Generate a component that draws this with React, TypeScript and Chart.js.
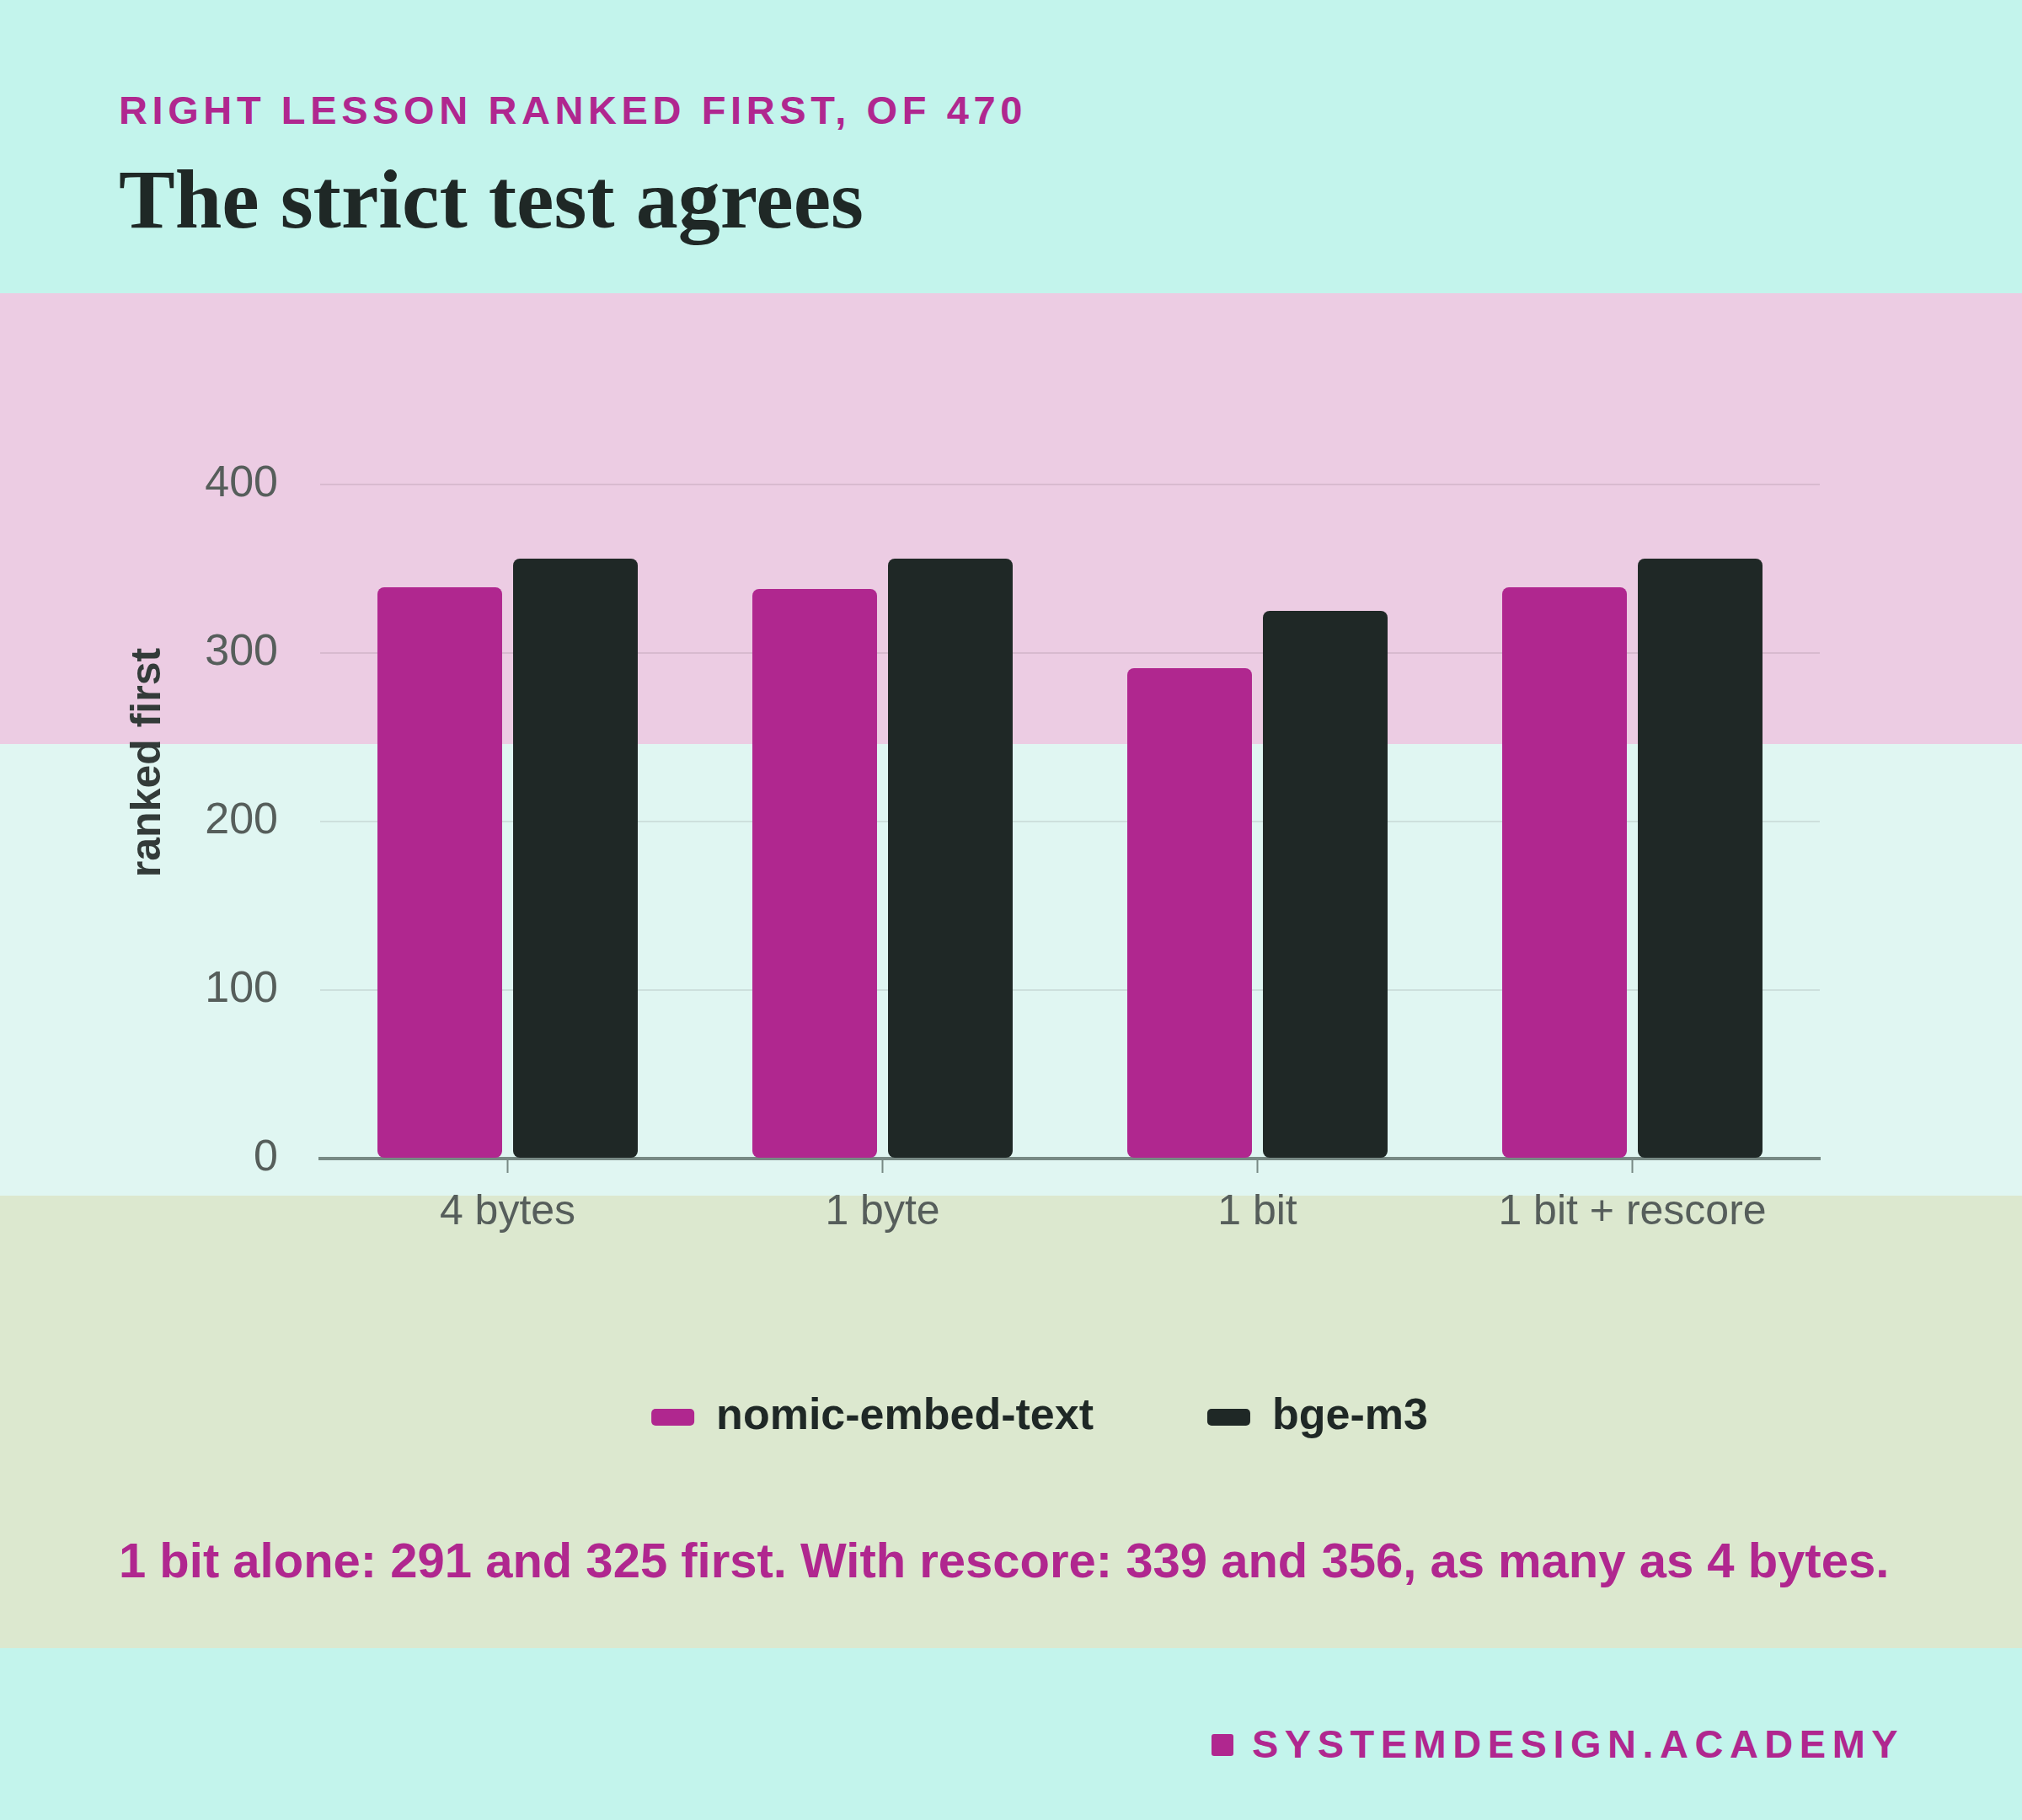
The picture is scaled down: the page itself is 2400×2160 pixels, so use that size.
import React, { useEffect, useRef } from 'react';
import { Chart, registerables } from 'chart.js';

Chart.register(...registerables);

const categories = ['4 bytes', '1 byte', '1 bit', '1 bit + rescore'];
const nomicValues = [339, 338, 291, 339];
const bgeValues = [356, 356, 325, 356];
const yTicks = [0, 100, 200, 300, 400];
const yMax = 470;

const MAGENTA = '#b0278f';
const INK = '#1f2826';
const AXIS = '#788a85';
const TICK = '#565e5b';
const GRID = 'rgba(40, 30, 40, 0.1)';
const SANS = "'Liberation Sans', Arial, sans-serif";

// the legend row sits a little right of the plot's centre in the design
const LEGEND_SHIFT = 167;

const legendShift = {
  id: 'legendShift',
  afterLayout(chart: any) {
    if (chart.legend) {
      chart.legend.left += LEGEND_SHIFT;
    }
  },
};

const App: React.FC = () => {
  const chartRef = useRef<HTMLCanvasElement | null>(null);
  const chartInstanceRef = useRef<Chart | null>(null);

  useEffect(() => {
    document.body.style.margin = '0';
    if (!chartRef.current) return;
    const ctx = chartRef.current.getContext('2d');
    if (!ctx) return;

    if (chartInstanceRef.current) {
      chartInstanceRef.current.destroy();
    }

    Chart.defaults.font.family = SANS;

    chartInstanceRef.current = new Chart(ctx, {
      type: 'bar',
      data: {
        labels: categories,
        datasets: [
          {
            label: 'nomic-embed-text',
            data: nomicValues,
            backgroundColor: MAGENTA,
            borderRadius: 8,
            borderSkipped: false,
            categoryPercentage: 0.7236,
            barPercentage: 0.919,
          },
          {
            label: 'bge-m3',
            data: bgeValues,
            backgroundColor: INK,
            borderRadius: 8,
            borderSkipped: false,
            categoryPercentage: 0.7236,
            barPercentage: 0.919,
          },
        ],
      },
      options: {
        animation: false,
        responsive: true,
        maintainAspectRatio: false,
        layout: {
          padding: { top: 87, left: 141, right: 240, bottom: 0 },
        },
        plugins: {
          legend: {
            position: 'bottom',
            labels: {
              boxWidth: 51,
              boxHeight: 20,
              padding: 135,
              useBorderRadius: true,
              borderRadius: 5,
              color: INK,
              font: { size: 52, weight: 'bold' },
            },
          },
          tooltip: { enabled: false },
        },
        scales: {
          x: {
            grid: {
              offset: false,
              drawOnChartArea: false,
              drawTicks: true,
              tickLength: 17,
              tickWidth: 2,
              tickColor: AXIS,
            },
            border: { color: AXIS, width: 4 },
            ticks: { color: TICK, padding: 17, font: { size: 50 } },
            afterFit: (scale: any) => {
              scale.height = 146;
            },
          },
          y: {
            min: 0,
            max: yMax,
            afterBuildTicks: (scale: any) => {
              scale.ticks = yTicks.map((value) => ({ value }));
            },
            grid: { color: GRID, lineWidth: 2, drawTicks: false },
            border: { display: false },
            ticks: { color: TICK, padding: 50, font: { size: 52 } },
            title: {
              display: true,
              text: 'ranked first',
              color: '#333b39',
              font: { size: 50, weight: 'bold' },
              padding: { top: 5, bottom: 0 },
            },
            afterFit: (scale: any) => {
              scale.width = 239;
            },
          },
        },
      },
      plugins: [legendShift],
    });

    return () => {
      if (chartInstanceRef.current) {
        chartInstanceRef.current.destroy();
        chartInstanceRef.current = null;
      }
    };
  }, []);

  return (
    <div
      style={{
        position: 'relative',
        width: 2400,
        height: 2160,
        overflow: 'hidden',
        background:
          'linear-gradient(to bottom, #c3f4ec 0px, #c3f4ec 348px, #eccce3 348px, #eccce3 883px, #e0f6f2 883px, #e0f6f2 1419px, #dce8cf 1419px, #dce8cf 1956px, #c3f4ec 1956px)',
      }}
    >
      <div
        style={{
          position: 'absolute',
          left: 141,
          top: 107,
          fontFamily: SANS,
          fontWeight: 700,
          fontSize: 47,
          lineHeight: '47px',
          letterSpacing: 5.6,
          color: MAGENTA,
          whiteSpace: 'nowrap',
        }}
      >
        RIGHT LESSON RANKED FIRST, OF 470
      </div>
      <div
        style={{
          position: 'absolute',
          left: 141,
          top: 187,
          fontFamily: "'Liberation Serif', 'Times New Roman', serif",
          fontWeight: 700,
          fontSize: 100,
          lineHeight: '100px',
          color: INK,
          whiteSpace: 'nowrap',
        }}
      >
        The strict test agrees
      </div>
      <div style={{ position: 'absolute', left: 0, top: 348, width: 2400, height: 1370 }}>
        <canvas ref={chartRef}></canvas>
      </div>
      <div
        style={{
          position: 'absolute',
          left: 141,
          top: 1823,
          fontFamily: SANS,
          fontWeight: 700,
          fontSize: 58,
          lineHeight: '58px',
          color: MAGENTA,
          whiteSpace: 'nowrap',
        }}
      >
        1 bit alone: 291 and 325 first. With rescore: 339 and 356, as many as 4 bytes.
      </div>
      <div
        style={{
          position: 'absolute',
          left: 1438,
          top: 2058,
          width: 26,
          height: 26,
          borderRadius: 3,
          background: MAGENTA,
        }}
      />
      <div
        style={{
          position: 'absolute',
          left: 1486,
          top: 2046,
          fontFamily: SANS,
          fontWeight: 700,
          fontSize: 47,
          lineHeight: '47px',
          letterSpacing: 7.5,
          color: MAGENTA,
          whiteSpace: 'nowrap',
        }}
      >
        SYSTEMDESIGN.ACADEMY
      </div>
    </div>
  );
};

export default App;
